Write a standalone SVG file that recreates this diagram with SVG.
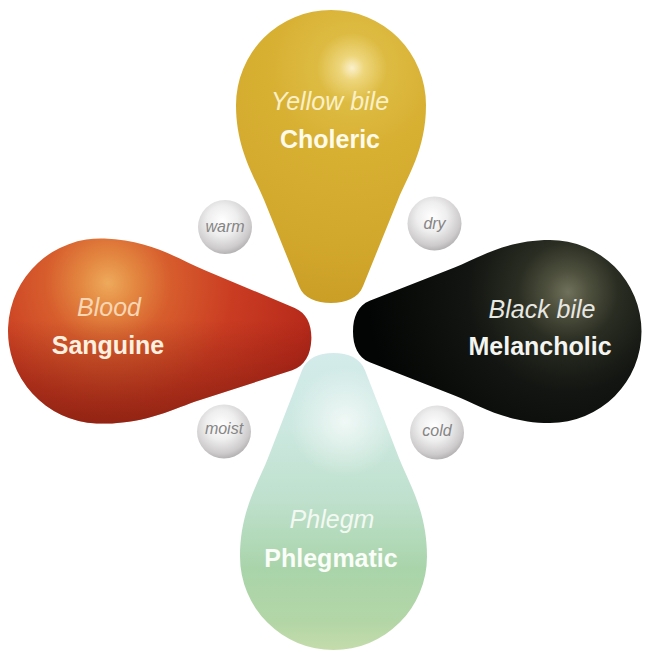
<svg xmlns="http://www.w3.org/2000/svg" width="645" height="652" viewBox="0 0 645 652">
<style>
.it{font-family:"Liberation Sans",Arial,sans-serif;font-style:italic;font-size:25px;text-anchor:middle}
.bd{font-family:"Liberation Sans",Arial,sans-serif;font-weight:bold;font-size:25px;text-anchor:middle}
.q{font-family:"Liberation Sans",Arial,sans-serif;font-style:italic;font-size:16px;text-anchor:middle;fill:#858585}
.ball{fill:url(#gBall)}
</style>
<defs>
<clipPath id="cY"><path transform="translate(331,105) rotate(90)" d="M0,-95 C44.6,-95 71.3,-76.5 96,-66.5 L181.2,-32 C193.1,-27.2 198,-15 198,0 C198,15 193.1,27.2 181.2,32 L96,66.5 C71.3,76.5 44.6,95 0,95 A95 95 0 0 1 -95,0 A95 95 0 0 1 0,-95 Z"/></clipPath>
<clipPath id="cR"><path transform="translate(100.5,331) rotate(2.4)" d="M0,-92.5 C47.5,-92.5 76,-74.5 102.3,-64.8 L193.1,-31.2 C205.7,-26.5 211,-14.6 211,0 C211,14.6 205.7,26.5 193.1,31.2 L102.3,64.8 C76,74.5 47.5,92.5 0,92.5 A92.5 92.5 0 0 1 -92.5,0 A92.5 92.5 0 0 1 0,-92.5 Z"/></clipPath>
<clipPath id="cK"><path transform="translate(550,331.5) rotate(180)" d="M0,-91.5 C44.3,-91.5 70.9,-73.7 95.5,-64 L180.3,-30.8 C192.1,-26.2 197,-14.4 197,0 C197,14.4 192.1,26.2 180.3,30.8 L95.5,64 C70.9,73.7 44.3,91.5 0,91.5 A91.5 91.5 0 0 1 -91.5,0 A91.5 91.5 0 0 1 0,-91.5 Z"/></clipPath>
<clipPath id="cG"><path transform="translate(333.5,556.5) rotate(-90)" d="M0,-93.5 C45.8,-93.5 73.3,-75.3 98.7,-65.4 L186.2,-31.5 C198.4,-26.8 203.5,-14.8 203.5,0 C203.5,14.8 198.4,26.8 186.2,31.5 L98.7,65.4 C73.3,75.3 45.8,93.5 0,93.5 A93.5 93.5 0 0 1 -93.5,0 A93.5 93.5 0 0 1 0,-93.5 Z"/></clipPath>
<radialGradient id="gY" gradientUnits="userSpaceOnUse" cx="352" cy="68" r="250">
<stop offset="0" stop-color="#FBF1CC"/><stop offset="0.05" stop-color="#EDD57A"/><stop offset="0.14" stop-color="#DDBB42"/><stop offset="0.35" stop-color="#D7AF31"/><stop offset="0.7" stop-color="#D2A82C"/><stop offset="1" stop-color="#C99C24"/>
</radialGradient>
<radialGradient id="gR" gradientUnits="userSpaceOnUse" cx="108" cy="283" r="250">
<stop offset="0" stop-color="#EEAA5C"/><stop offset="0.1" stop-color="#E48A42"/><stop offset="0.25" stop-color="#D75D2D"/><stop offset="0.5" stop-color="#CA3C22"/><stop offset="0.8" stop-color="#B82B1B"/><stop offset="1" stop-color="#9A2014"/>
</radialGradient>
<linearGradient id="gRshade" gradientUnits="userSpaceOnUse" x1="0" y1="320" x2="0" y2="428">
<stop offset="0" stop-color="#5A0C05" stop-opacity="0"/><stop offset="1" stop-color="#5A0C05" stop-opacity="0.5"/>
</linearGradient>
<radialGradient id="gK" gradientUnits="userSpaceOnUse" cx="568" cy="292" r="200">
<stop offset="0" stop-color="#70715C"/><stop offset="0.1" stop-color="#50523F"/><stop offset="0.25" stop-color="#2A2D22"/><stop offset="0.5" stop-color="#121511"/><stop offset="1" stop-color="#030504"/>
</radialGradient>
<linearGradient id="gG" gradientUnits="userSpaceOnUse" x1="0" y1="353" x2="0" y2="652">
<stop offset="0" stop-color="#D3EBEA"/><stop offset="0.25" stop-color="#CCE8E0"/><stop offset="0.5" stop-color="#BEE0CC"/><stop offset="0.72" stop-color="#A9D4AA"/><stop offset="0.9" stop-color="#B3D6A6"/><stop offset="1" stop-color="#C6DCAC"/>
</linearGradient>
<radialGradient id="gGhi" gradientUnits="userSpaceOnUse" cx="345" cy="422" r="55">
<stop offset="0" stop-color="#FFFFFF" stop-opacity="0.7"/><stop offset="1" stop-color="#FFFFFF" stop-opacity="0"/>
</radialGradient>
<radialGradient id="gBall" cx="0.45" cy="0.38" r="0.62">
<stop offset="0" stop-color="#FFFFFF"/><stop offset="0.45" stop-color="#EFEEEE"/><stop offset="0.85" stop-color="#CDCBCB"/><stop offset="1" stop-color="#B5B3B3"/>
</radialGradient>
</defs>

<g id="choleric">
<rect x="225" y="0" width="212" height="315" fill="url(#gY)" clip-path="url(#cY)"/>
<text class="it" x="330" y="110" fill="#FAF0C8">Yellow bile</text>
<text class="bd" x="330" y="148" fill="#FFFBEA">Choleric</text>
</g>

<g id="sanguine">
<g clip-path="url(#cR)">
<rect x="0" y="230" width="320" height="200" fill="url(#gR)"/>
<rect x="0" y="230" width="320" height="200" fill="url(#gRshade)"/>
</g>
<text class="it" x="109" y="316" fill="#F8D6B4">Blood</text>
<text class="bd" x="108" y="354" fill="#FFF0E0">Sanguine</text>
</g>

<g id="melancholic">
<rect x="345" y="230" width="300" height="200" fill="url(#gK)" clip-path="url(#cK)"/>
<text class="it" x="542" y="318" fill="#E8E8E2">Black bile</text>
<text class="bd" x="540" y="355" fill="#F4F4F0">Melancholic</text>
</g>

<g id="phlegmatic">
<g clip-path="url(#cG)">
<rect x="230" y="345" width="210" height="307" fill="url(#gG)"/>
<rect x="230" y="345" width="210" height="307" fill="url(#gGhi)"/>
</g>
<text class="it" x="332" y="528" fill="#F3F9F2">Phlegm</text>
<text class="bd" x="331" y="567" fill="#FAFDF8">Phlegmatic</text>
</g>

<g id="warm"><circle class="ball" cx="225" cy="227" r="27"/><text class="q" x="225" y="232">warm</text></g>
<g id="dry"><circle class="ball" cx="434.5" cy="223.5" r="27"/><text class="q" x="434.5" y="229">dry</text></g>
<g id="moist"><circle class="ball" cx="224" cy="431.5" r="27"/><text class="q" x="224" y="434">moist</text></g>
<g id="cold"><circle class="ball" cx="437" cy="432.5" r="27"/><text class="q" x="437" y="436">cold</text></g>
</svg>
